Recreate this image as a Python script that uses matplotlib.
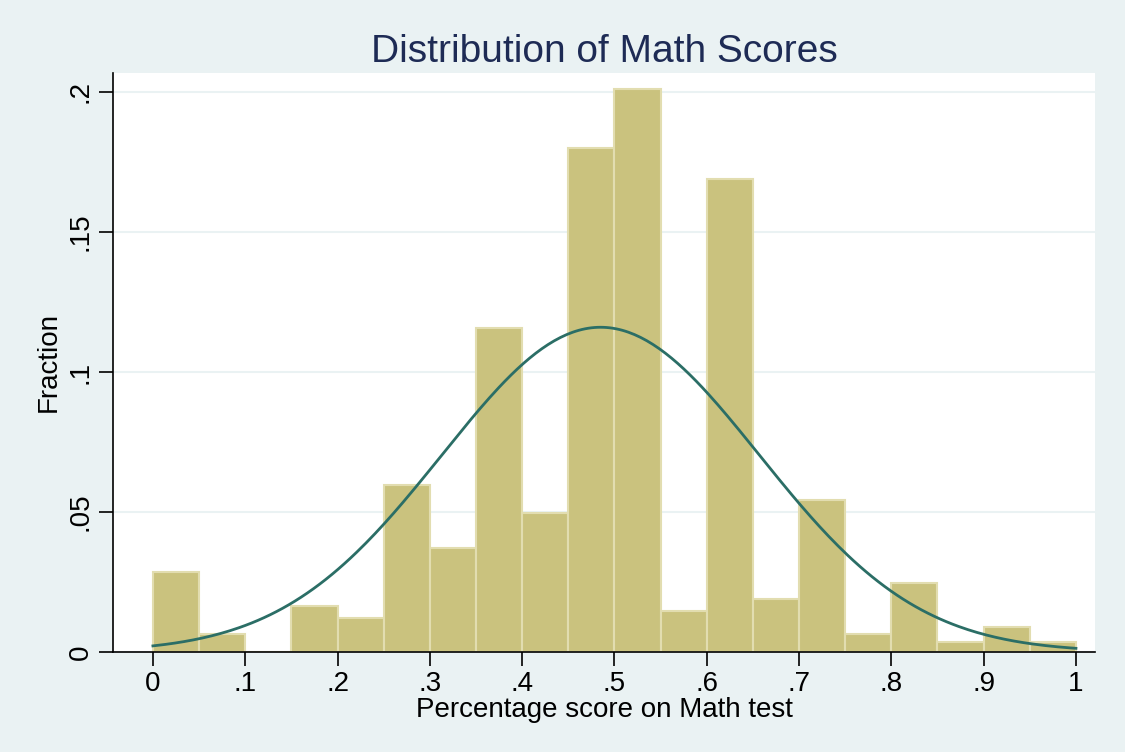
import numpy as np
import matplotlib
matplotlib.use('Agg')
import matplotlib.pyplot as plt

plt.rcParams['font.family'] = ['Liberation Sans', 'DejaVu Sans']

# histogram of math scores, 20 bins of width .05, heights as fraction
bin_left = np.arange(0, 1.0, 0.05)
fraction = [0.0286, 0.0064, 0.0, 0.0164, 0.0121, 0.0596, 0.0371, 0.1157, 0.0496, 0.180,
            0.201, 0.0146, 0.169, 0.0189, 0.0543, 0.0064, 0.0246, 0.0036, 0.0089, 0.0036]
bin_width = 0.05

# fitted normal overlay
mu = 0.485
sd = 0.172

xticks = [0, .1, .2, .3, .4, .5, .6, .7, .8, .9, 1]
xticklabels = ['0', '.1', '.2', '.3', '.4', '.5', '.6', '.7', '.8', '.9', '1']
yticks = [0, .05, .1, .15, .2]
yticklabels = ['0', '.05', '.1', '.15', '.2']

bg = '#EAF2F3'
fig = plt.figure(figsize=(11.25, 7.52), dpi=100, facecolor=bg)
ax = fig.add_axes([0.1004, 0.133, 0.8729, 0.770])

ax.bar(bin_left, fraction, width=bin_width, align='edge', color='#CAC27E',
       edgecolor='#E2DDB0', linewidth=1.5, zorder=2)

xs = np.linspace(0, 1, 300)
ys = bin_width * np.exp(-0.5 * ((xs - mu) / sd) ** 2) / (sd * np.sqrt(2 * np.pi))
ax.plot(xs, ys, color='#2B6E66', lw=2, zorder=3)

ax.set_xlim(-0.0433, 1.0206)
ax.set_ylim(0, 0.2068)
ax.set_xticks(xticks)
ax.set_xticklabels(xticklabels)
ax.set_yticks(yticks)
ax.set_yticklabels(yticklabels, rotation=90, va='center')
ax.grid(axis='y', color=bg, lw=1.5, zorder=0)
ax.set_axisbelow(True)

for s in ['top', 'right']:
    ax.spines[s].set_visible(False)
for s in ['left', 'bottom']:
    ax.spines[s].set_linewidth(1.2)
ax.tick_params(direction='out', length=10, width=1.2, labelsize=20, pad=4)

ax.set_xlabel('Percentage score on Math test', fontsize=20, labelpad=0)
ax.set_ylabel('Fraction', fontsize=20, labelpad=4)
ax.set_title('Distribution of Math Scores', fontsize=28, color='#1E2B55', pad=8)

fig.savefig('out.png', dpi=100, facecolor=bg)
